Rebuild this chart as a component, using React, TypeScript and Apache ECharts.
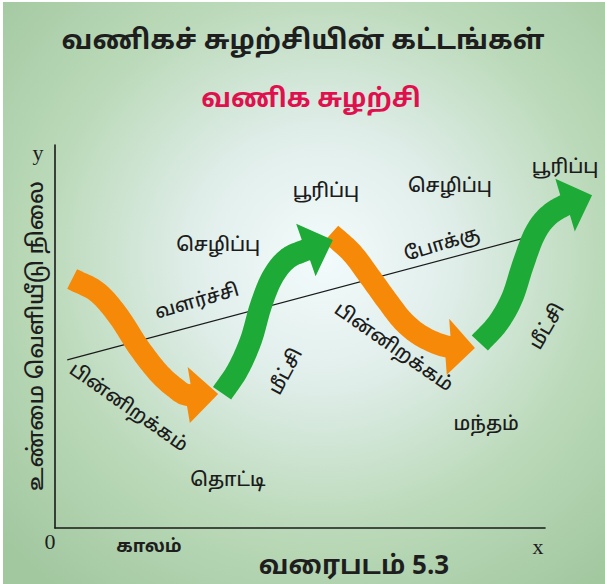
import React, { useEffect, useRef } from 'react';
import * as echarts from 'echarts';

const TITLE = 'வணிகச் சுழற்சியின் கட்டங்கள்';
const SUBTITLE = 'வணிக சுழற்சி';
const CAPTION = 'வரைபடம் 5.3';
const X_NAME = 'காலம்';
const Y_NAME = 'உண்மை வெளியீடு நிலை';

// long-run trend line (time, output level)
const trendLine = [
  [0.25, 4.39],
  [9.9, 7.68],
];

// phase arrows: centre lines (time, level) and arrow tips
const arrowKinds = ['down', 'up', 'down', 'up'];
const arrowPaths = [
  [[0.35, 6.5], [0.86, 6.16], [1.29, 5.54], [1.69, 4.75], [2.1, 4.07], [2.45, 3.66], [2.73, 3.47]],
  [[3.41, 3.52], [3.73, 4.13], [4.0, 4.91], [4.2, 5.8], [4.43, 6.53], [4.73, 7.02], [5.12, 7.26]],
  [[5.63, 7.68], [6.06, 7.18], [6.43, 6.55], [6.78, 5.93], [7.12, 5.38], [7.51, 4.99], [8.02, 4.73]],
  [[8.67, 4.83], [9.04, 5.35], [9.33, 6.01], [9.55, 6.87], [9.78, 7.65], [10.04, 8.12], [10.41, 8.43]],
];
const arrowTips = [
  [3.33, 3.5],
  [5.67, 7.52],
  [8.57, 4.7],
  [10.96, 8.69],
];
const drawOrder = [0, 2, 1, 3];

// phase labels
const labelTexts = [
  'செழிப்பு', 'வளர்ச்சி', 'பின்னிறக்கம்', 'தொட்டி', 'மீட்சி', 'பூரிப்பு',
  'செழிப்பு', 'போக்கு', 'பின்னிறக்கம்', 'மந்தம்', 'மீட்சி', 'பூரிப்பு',
];
const labelPositions = [
  [3.33, 7.36], [2.9, 5.9], [1.49, 3.13], [3.53, 1.23], [4.73, 4.07], [5.53, 8.77],
  [8.06, 8.9], [7.9, 7.39], [6.9, 4.7], [8.8, 2.69], [10.06, 5.25], [10.41, 9.4],
];
const labelAngles = [0, 16, -35, 0, 62, 0, 0, 17, -35, 0, 60, 0];

const FONT = "'Noto Sans Tamil', 'Lohit Tamil', 'Noto Sans', 'DejaVu Sans', sans-serif";
const ORANGE = '#f68a08';
const GREEN = '#1eaa36';

function catmull(p0: number[], p1: number[], p2: number[], p3: number[], t: number) {
  const t2 = t * t;
  const t3 = t2 * t;
  const f = (a: number, b: number, c: number, d: number) =>
    0.5 * (2 * b + (-a + c) * t + (2 * a - 5 * b + 4 * c - d) * t2 + (-a + 3 * b - 3 * c + d) * t3);
  return [f(p0[0], p1[0], p2[0], p3[0]), f(p0[1], p1[1], p2[1], p3[1])];
}

function renderArrow(_params: any, api: any) {
  const idx = api.value(0);
  const pts: number[][] = arrowPaths[idx].map((p) => api.coord(p));
  const tip: number[] = api.coord(arrowTips[idx]);
  const n = pts.length;
  const first = [2 * pts[0][0] - pts[1][0], 2 * pts[0][1] - pts[1][1]];
  const ctrl = [first, ...pts, tip];
  const samples: number[][] = [];
  for (let i = 1; i < n; i++) {
    const steps = 14;
    for (let s = 0; s < steps; s++) {
      samples.push(catmull(ctrl[i - 1], ctrl[i], ctrl[i + 1], ctrl[i + 2], s / steps));
    }
  }
  samples.push(pts[n - 1]);
  const hw = 11;
  const left: number[][] = [];
  const right: number[][] = [];
  for (let i = 0; i < samples.length; i++) {
    const a = samples[Math.max(0, i - 1)];
    const b = samples[Math.min(samples.length - 1, i + 1)];
    let dx = b[0] - a[0];
    let dy = b[1] - a[1];
    const len = Math.hypot(dx, dy) || 1;
    dx /= len;
    dy /= len;
    left.push([samples[i][0] - dy * hw, samples[i][1] + dx * hw]);
    right.push([samples[i][0] + dy * hw, samples[i][1] - dx * hw]);
  }
  const base = pts[n - 1];
  let hx = tip[0] - base[0];
  let hy = tip[1] - base[1];
  const hl = Math.hypot(hx, hy) || 1;
  hx /= hl;
  hy /= hl;
  const hh = 28;
  const cl = [base[0] - hy * hh, base[1] + hx * hh];
  const cr = [base[0] + hy * hh, base[1] - hx * hh];
  const poly = [...left, cl, tip, cr, ...right.reverse()];
  return {
    type: 'polygon',
    shape: { points: poly },
    style: { fill: arrowKinds[idx] === 'up' ? GREEN : ORANGE },
  };
}

function renderLabel(_params: any, api: any) {
  const p = api.coord([api.value(0), api.value(1)]);
  const i = api.value(2);
  return {
    type: 'text',
    x: p[0],
    y: p[1],
    rotation: (labelAngles[i] * Math.PI) / 180,
    style: {
      text: labelTexts[i],
      font: `500 19px ${FONT}`,
      fill: '#1c1c1c',
      align: 'center',
      verticalAlign: 'middle',
    },
  };
}

export default function App() {
  const ref = useRef<HTMLDivElement>(null);
  useEffect(() => {
    if (!ref.current) return;
    const chart = echarts.init(ref.current, undefined, { renderer: 'svg' });
    chart.setOption({
      animation: false,
      backgroundColor: '#ffffff',
      grid: { left: 55, top: 145, width: 490, height: 383 },
      xAxis: {
        type: 'value',
        min: 0,
        max: 10,
        axisLine: { show: true, lineStyle: { color: '#1a1a1a', width: 1.6 } },
        axisTick: { show: false },
        axisLabel: { show: false },
        splitLine: { show: false },
      },
      yAxis: {
        type: 'value',
        min: 0,
        max: 10,
        axisLine: { show: true, lineStyle: { color: '#1a1a1a', width: 1.6 } },
        axisTick: { show: false },
        axisLabel: { show: false },
        splitLine: { show: false },
      },
      graphic: [
        {
          type: 'rect',
          z: -10,
          silent: true,
          shape: { x: 3, y: 2, width: 602, height: 582 },
          style: {
            fill: {
              type: 'radial',
              x: 0.53,
              y: 0.44,
              r: 0.72,
              colorStops: [
                { offset: 0, color: '#f3fbfc' },
                { offset: 0.3, color: '#e0eeea' },
                { offset: 0.65, color: '#bad9b8' },
                { offset: 1, color: '#a2c8a0' },
              ],
            },
          },
        },
        {
          type: 'text', x: 303, y: 42, z: 100,
          style: { text: TITLE, font: `bold 27px ${FONT}`, fill: '#1e1e1e', align: 'center', verticalAlign: 'middle' },
        },
        {
          type: 'text', x: 311, y: 100, z: 100,
          style: { text: SUBTITLE, font: `bold 26px ${FONT}`, fill: '#e0104e', align: 'center', verticalAlign: 'middle' },
        },
        {
          type: 'text', x: 354, y: 567, z: 100,
          style: { text: CAPTION, font: `bold 26px ${FONT}`, fill: '#1e1e1e', align: 'center', verticalAlign: 'middle' },
        },
        {
          type: 'text', x: 149, y: 547, z: 100,
          style: { text: X_NAME, font: `bold 18px ${FONT}`, fill: '#1e1e1e', align: 'center', verticalAlign: 'middle' },
        },
        {
          type: 'text', x: 37, y: 336, z: 100, rotation: Math.PI / 2,
          style: { text: Y_NAME, font: `500 22px ${FONT}`, fill: '#1e1e1e', align: 'center', verticalAlign: 'middle' },
        },
        {
          type: 'text', x: 38, y: 152, z: 100,
          style: { text: 'y', font: "22px 'Liberation Serif', serif", fill: '#1e1e1e', align: 'center', verticalAlign: 'middle' },
        },
        {
          type: 'text', x: 50, y: 541, z: 100,
          style: { text: '0', font: "22px 'Liberation Serif', serif", fill: '#1e1e1e', align: 'center', verticalAlign: 'middle' },
        },
        {
          type: 'text', x: 538, y: 546, z: 100,
          style: { text: 'x', font: "22px 'Liberation Serif', serif", fill: '#1e1e1e', align: 'center', verticalAlign: 'middle' },
        },
      ],
      series: [
        {
          type: 'line',
          data: trendLine,
          symbol: 'none',
          lineStyle: { color: '#1a1a1a', width: 1.2 },
          z: 1,
          silent: true,
        },
        {
          type: 'custom',
          renderItem: renderArrow,
          data: drawOrder.map((i) => [i, 0]),
          clip: false,
          z: 3,
          silent: true,
        },
        {
          type: 'custom',
          renderItem: renderLabel,
          data: labelPositions.map((p, i) => [p[0], p[1], i]),
          clip: false,
          z: 4,
          silent: true,
        },
      ],
    });
    return () => chart.dispose();
  }, []);
  return <div ref={ref} style={{ position: 'absolute', left: 0, top: 0, width: 605, height: 584 }} />;
}
